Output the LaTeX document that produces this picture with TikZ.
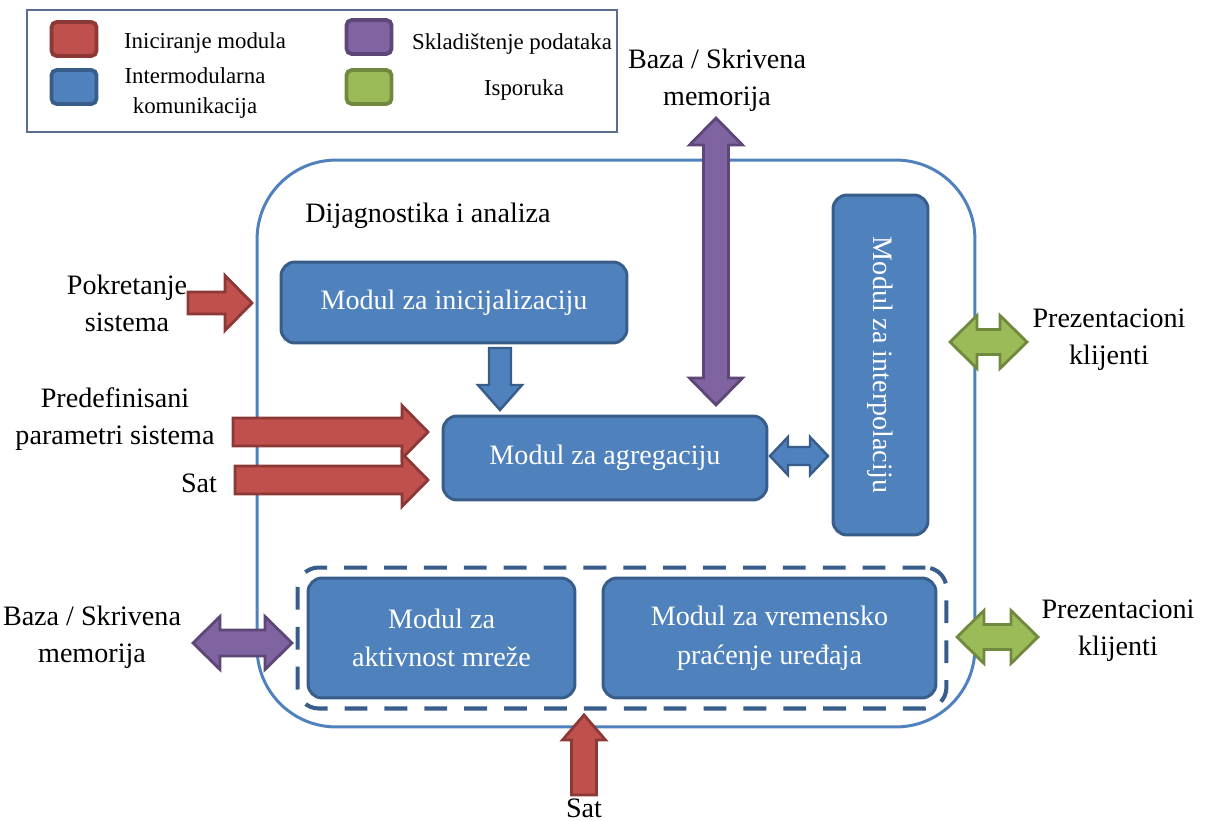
\documentclass[tikz,border=0pt]{standalone}
\usepackage{fontspec}
\setmainfont{LiberationSerif}[Extension=.ttf, UprightFont=*-Regular, BoldFont=*-Bold, ItalicFont=*-Italic, BoldItalicFont=*-BoldItalic]
\usetikzlibrary{fit}

\definecolor{iniRed}{HTML}{C0504D}
\definecolor{iniRedLine}{HTML}{8C3836}
\definecolor{comBlue}{HTML}{4F81BD}
\definecolor{comBlueLine}{HTML}{385D8A}
\definecolor{stoPurple}{HTML}{8064A2}
\definecolor{stoPurpleLine}{HTML}{5C4776}
\definecolor{delGreen}{HTML}{9BBB59}
\definecolor{delGreenLine}{HTML}{71893F}
\definecolor{legLine}{HTML}{5B6E8F}

\tikzset{
  % block arrow: length, shaft half width, head half width, head length, style
  pics/onearrow/.style n args={5}{code={
    \path[#5] (0,-#2) -- ({#1-#4},-#2) -- ({#1-#4},-#3) -- (#1,0)
      -- ({#1-#4},#3) -- ({#1-#4},#2) -- (0,#2) -- cycle;}},
  pics/twoarrow/.style n args={5}{code={
    \path[#5] (0,0) -- (#4,-#3) -- (#4,-#2) -- ({#1-#4},-#2) -- ({#1-#4},-#3)
      -- (#1,0) -- ({#1-#4},#3) -- ({#1-#4},#2) -- (#4,#2) -- (#4,#3) -- cycle;}},
  redarr/.style={fill=iniRed, draw=iniRedLine, line width=1.6pt},
  bluearr/.style={fill=comBlue, draw=comBlueLine, line width=1.4pt},
  purparr/.style={fill=stoPurple, draw=stoPurpleLine, line width=1.6pt},
  greenarr/.style={fill=delGreen, draw=delGreenLine, line width=1.6pt},
}

\begin{document}
\begin{tikzpicture}[x=0.02cm, y=-0.02cm,
    plain/.style={align=center, inner sep=0pt, font=\fontsize{16}{21}\selectfont},
    legtext/.style={align=center, inner sep=0pt, font=\fontsize{13}{17}\selectfont},
    swatch/.style={line width=2.2pt, rounded corners=3pt, minimum width=0.9cm, minimum height=0.68cm, inner sep=0pt},
    module/.style={draw=comBlueLine, fill=comBlue, line width=1.7pt, rounded corners=8pt,
      text=white, align=center, inner sep=0pt, font=\fontsize{16}{22}\selectfont},
    outerbox/.style={draw=comBlue, line width=1.7pt, rounded corners=45pt, inner sep=0pt},
    groupbox/.style={draw=comBlueLine, line width=2.3pt, rounded corners=12pt,
      dash pattern=on 13pt off 9.7pt}]
  \useasboundingbox (0,0) rectangle (1205,821);
  % Legend
  \node[draw=legLine, line width=0.9pt, minimum width=11.8cm, minimum height=2.44cm, inner sep=0pt] (legend) at (322,71) {};
  \node[swatch, fill=iniRed, draw=iniRedLine] (swRed) at (74,39) {};
  \node[swatch, fill=comBlue, draw=comBlueLine] (swBlue) at (74,87) {};
  \node[swatch, fill=stoPurple, draw=stoPurpleLine] (swPurple) at (369,37) {};
  \node[swatch, fill=delGreen, draw=delGreenLine] (swGreen) at (369,87) {};
  \node[legtext] (lgRed) at (205,43) {Iniciranje modula};
  \node[legtext] (lgBlue) at (195,93) {Intermodularna\\komunikacija};
  \node[legtext] (lgPurple) at (512,44) {Skladištenje podataka};
  \node[legtext] (lgGreen) at (524,90) {Isporuka};
  % Outer block
  \node[outerbox, minimum width=14.36cm, minimum height=11.34cm] (diag) at (616,443.5) {};
  \node[plain] (diagTitle) at (428,216) {Dijagnostika i analiza};
  % Modules
  \node[module, minimum width=6.92cm, minimum height=1.62cm] (init) at (454,302.5) {Modul za inicijalizaciju};
  \node[module, minimum width=6.48cm, minimum height=1.68cm] (aggr) at (605,458) {Modul za agregaciju};
  \node[module, rotate=-90, minimum width=6.8cm, minimum height=1.9cm] (interp) at (880.5,365) {Modul za interpolaciju};
  \node[module, minimum width=5.34cm, minimum height=2.4cm] (net) at (441.5,638) {Modul za\\aktivnost mreže};
  \node[module, minimum width=6.66cm, minimum height=2.4cm] (timing) at (769.5,638) {Modul za vremensko\\praćenje uređaja};
  \node[groupbox, fit=(net)(timing), inner sep=0.18cm] (group) {};
  % Outside labels
  \node[plain] (start) at (127,303) {Pokretanje\\sistema};
  \node[plain] (params) at (115,419) {Predefinisani\\parametri sistema};
  \node[plain] (clockL) at (199,483) {Sat};
  \node[plain] (storeT) at (717,80) {Baza / Skrivena\\memorija};
  \node[plain] (storeL) at (92,637) {Baza / Skrivena\\memorija};
  \node[plain] (clientT) at (1109,340) {Prezentacioni\\klijenti};
  \node[plain] (clientB) at (1118,631) {Prezentacioni\\klijenti};
  \node[plain] (clockB) at (584,808) {Sat};
  % Arrows
  \pic at (188,303) {onearrow={64}{11}{27.5}{27}{redarr}};
  \pic at (233,432) {onearrow={195}{14}{26.5}{26}{redarr}};
  \pic at (235,480) {onearrow={193}{14}{26.5}{26}{redarr}};
  \pic[rotate=90] at (584,795) {onearrow={80}{12.5}{21.5}{25}{redarr}};
  \pic[rotate=-90] at (500,348) {onearrow={62}{11}{22}{25}{bluearr}};
  \pic at (770,456) {twoarrow={58}{9}{19}{18}{bluearr}};
  \pic[rotate=90] at (716,405) {twoarrow={287}{12.5}{26.5}{27}{purparr}};
  \pic at (193,643) {twoarrow={99}{13}{26.5}{27}{purparr}};
  \pic at (950,342) {twoarrow={77}{12.5}{26.5}{27}{greenarr}};
  \pic at (957,637) {twoarrow={81}{12.5}{26.5}{27}{greenarr}};
\end{tikzpicture}
\end{document}
